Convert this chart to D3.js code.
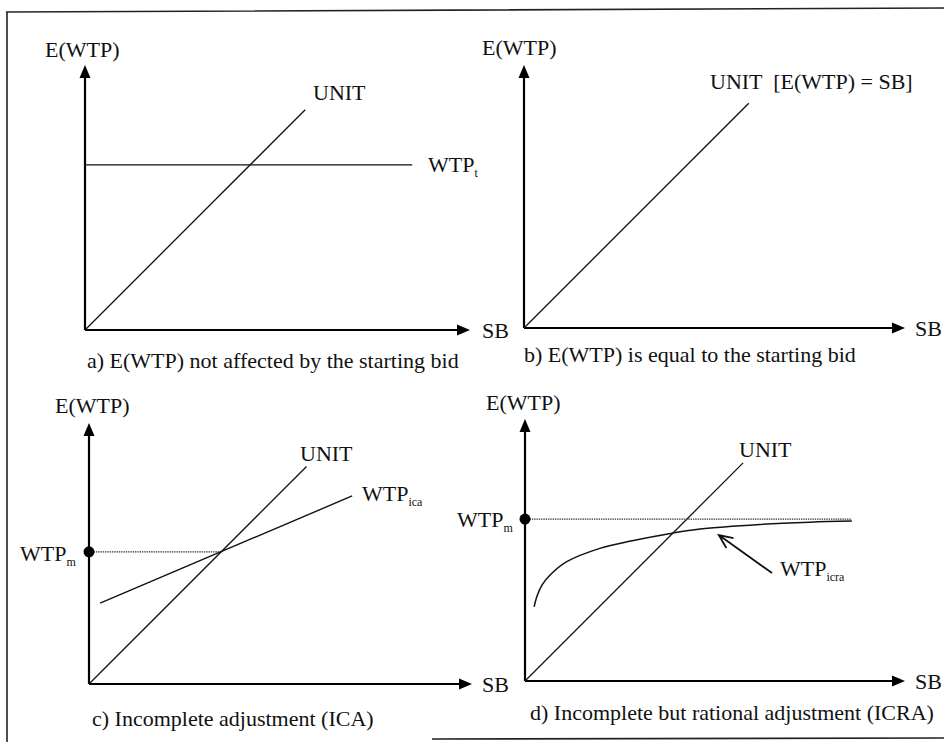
<!DOCTYPE html>
<html>
<head>
<meta charset="utf-8">
<script src="https://cdn.jsdelivr.net/npm/d3@7"></script>
<style>
  html, body { margin: 0; padding: 0; background: #fff; }
  svg { display: block; }
  svg text { font-family: "Liberation Serif", "Times New Roman", Tinos, Times, "Noto Serif", "DejaVu Serif", serif; }
</style>
</head>
<body>
<svg id="fig" width="944" height="742"></svg>
<script>
// Starting bid (SB) axis runs 0..sbMax in every panel; E(WTP) uses the same units.
const sbMax = 10;

// UNIT line E(WTP) = SB: SB value where it stops, per panel a-d
const unitEnd = [5.72, 5.9, 5.68, 5.74];

// a) WTP_t constant
const wtpTValue = 4.29;
const wtpTSpan = [0, 8.5];

// c) WTP_ica straight line and the anchor WTP_m
const icaSB = [0.29, 6.87];
const icaWTP = [2.11, 4.91];
const wtpMc = 3.45;

// d) WTP_icra curve, its asymptote WTP_m and the pointer arrow
const icraSB  = [0.24, 0.31, 0.45, 0.66, 1.10, 1.97, 2.82, 3.87, 4.61, 6.18, 7.5, 8.6];
const icraWTP = [1.95, 2.22, 2.53, 2.79, 3.14, 3.49, 3.69, 3.89, 4.0, 4.12, 4.18, 4.21];
const wtpMd = 4.26;
const wtpMdSpan = [0, 8.6];
const pointerFrom = [6.5, 2.84];
const pointerTo = [5.1, 3.84];

// Panel frames in pixels: origin and arrow tips of the two axes
const frames = [
  { x0: 85,  x1: 470, y0: 330, y1: 65 },
  { x0: 524, x1: 905, y0: 328, y1: 65 },
  { x0: 89,  x1: 472, y0: 684, y1: 423 },
  { x0: 525, x1: 905, y0: 681, y1: 419 }
];

const svg = d3.select("#fig");

// outer rule of the figure
svg.append("path")
  .attr("d", "M6,12 L944,8 M7,12 L7,742 M432,739 L944,738")
  .attr("fill", "none").attr("stroke", "#222").attr("stroke-width", 1.6);

const scales = frames.map(f => {
  const pxPerUnit = (f.x1 - f.x0) / sbMax;
  const x = d3.scaleLinear().domain([0, sbMax]).range([f.x0, f.x1]);
  const y = d3.scaleLinear().domain([0, (f.y0 - f.y1) / pxPerUnit]).range([f.y0, f.y1]);
  return { x, y, f };
});

const line = (x, y) => d3.line().x(d => x(d[0])).y(d => y(d[1]));

scales.forEach(({ x, y, f }, i) => {
  const g = svg.append("g");

  // axes (no ticks), then arrowheads at their ends
  g.append("g").attr("transform", `translate(0,${f.y0})`)
    .call(d3.axisBottom(x).tickValues([]).tickSizeOuter(0))
    .call(s => s.select(".domain").attr("stroke", "#000").attr("stroke-width", 2.2)
      .attr("d", `M${f.x0},0H${f.x1 - 8}`));
  g.append("g").attr("transform", `translate(${f.x0},0)`)
    .call(d3.axisLeft(y).tickValues([]).tickSizeOuter(0))
    .call(s => s.select(".domain").attr("stroke", "#000").attr("stroke-width", 2.2)
      .attr("d", `M0,${f.y0}V${f.y1 + 8}`));
  g.append("path")
    .attr("d", `M${f.x1},${f.y0} l-13,-5.5 l0,11 Z`).attr("fill", "#000");
  g.append("path")
    .attr("d", `M${f.x0},${f.y1} l-5.5,13 l11,0 Z`).attr("fill", "#000");

  // UNIT 45-degree line
  g.append("path")
    .datum([[0, 0], [unitEnd[i], unitEnd[i]]])
    .attr("d", line(x, y))
    .attr("fill", "none").attr("stroke", "#111").attr("stroke-width", 1.3);
});

// text helper with optional subscript
function label(x, y, main, sub, size) {
  const t = svg.append("text").attr("x", x).attr("y", y)
    .attr("fill", "#111")
    .attr("font-size", size || 22).text(main);
  if (sub) {
    t.append("tspan").attr("dy", 5).attr("font-size", 12).text(sub);
  }
  return t;
}

// ----- a) -----
{
  const { x, y } = scales[0];
  svg.append("path")
    .datum(wtpTSpan.map(s => [s, wtpTValue]))
    .attr("d", line(x, y))
    .attr("fill", "none").attr("stroke", "#111").attr("stroke-width", 1.3);
  label(45, 57, "E(WTP)");
  label(313, 100, "UNIT");
  label(428, 172, "WTP", "t");
  label(482, 338, "SB");
  label(87, 368, "a) E(WTP) not affected by the starting bid");
}

// ----- b) -----
{
  label(482, 55, "E(WTP)");
  label(710, 89, "UNIT  [E(WTP) = SB]").attr("xml:space", "preserve");
  label(915, 336, "SB");
  label(524, 362, "b) E(WTP) is equal to the starting bid");
}

// ----- c) -----
{
  const { x, y } = scales[2];
  svg.append("path")
    .datum([[0, wtpMc], [wtpMc, wtpMc]])
    .attr("d", line(x, y))
    .attr("fill", "none").attr("stroke", "#333").attr("stroke-width", 1.3)
    .attr("stroke-dasharray", "1.4,0.9");
  svg.append("path")
    .datum(icaSB.map((s, k) => [s, icaWTP[k]]))
    .attr("d", line(x, y))
    .attr("fill", "none").attr("stroke", "#111").attr("stroke-width", 1.4);
  svg.append("circle").attr("cx", x(0)).attr("cy", y(wtpMc)).attr("r", 5.5).attr("fill", "#000");
  label(55, 413, "E(WTP)");
  label(300, 461, "UNIT");
  label(362, 501, "WTP", "ica");
  label(20, 561, "WTP", "m");
  label(482, 692, "SB");
  label(92, 726, "c) Incomplete adjustment (ICA)");
}

// ----- d) -----
{
  const { x, y } = scales[3];
  svg.append("path")
    .datum(wtpMdSpan.map(s => [s, wtpMd]))
    .attr("d", line(x, y))
    .attr("fill", "none").attr("stroke", "#333").attr("stroke-width", 1.3)
    .attr("stroke-dasharray", "1.4,0.9");
  svg.append("path")
    .datum(icraSB.map((s, k) => [s, icraWTP[k]]))
    .attr("d", line(x, y).curve(d3.curveCatmullRom.alpha(0.5)))
    .attr("fill", "none").attr("stroke", "#111").attr("stroke-width", 1.5);
  svg.append("circle").attr("cx", x(0)).attr("cy", y(wtpMd)).attr("r", 5.5).attr("fill", "#000");

  // pointer arrow to the curve
  const fx = x(pointerFrom[0]), fy = y(pointerFrom[1]);
  const tx = x(pointerTo[0]), ty = y(pointerTo[1]);
  const ang = Math.atan2(ty - fy, tx - fx);
  const hl = 15, spread = 0.42;
  svg.append("path")
    .attr("d", `M${fx},${fy}L${tx},${ty}` +
      `M${tx - hl * Math.cos(ang - spread)},${ty - hl * Math.sin(ang - spread)}L${tx},${ty}` +
      `L${tx - hl * Math.cos(ang + spread)},${ty - hl * Math.sin(ang + spread)}`)
    .attr("fill", "none").attr("stroke", "#111").attr("stroke-width", 1.8);

  label(486, 410, "E(WTP)");
  label(739, 457, "UNIT");
  label(457, 527, "WTP", "m");
  label(780, 576, "WTP", "icra");
  label(915, 689, "SB");
  label(530, 720, "d) Incomplete but rational adjustment (ICRA)");
}
</script>
</body>
</html>
